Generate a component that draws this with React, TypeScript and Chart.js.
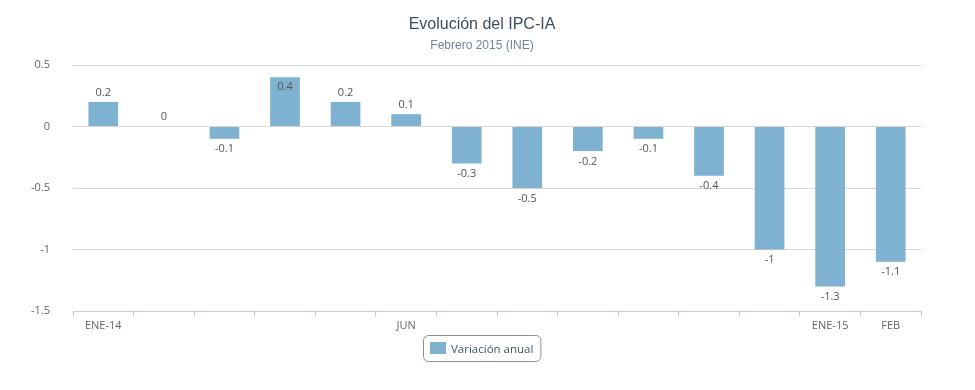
import React, { useEffect, useRef } from "react";
import { Chart, registerables } from "chart.js";

Chart.register(...registerables);

const categories = ["ENE-14", "", "", "", "", "JUN", "", "", "", "", "", "", "ENE-15", "FEB"];
const variacionAnual = [0.2, 0, -0.1, 0.4, 0.2, 0.1, -0.3, -0.5, -0.2, -0.1, -0.4, -1, -1.3, -1.1];
const yTicks = [0.5, 0, -0.5, -1, -1.5];
const titleText = "Evolución del IPC-IA";
const subtitleText = "Febrero 2015 (INE)";
const seriesName = "Variación anual";

const BAR_COLOR = "#7fb1d0";
const FONT = "'Open Sans', 'DejaVu Sans', sans-serif";

const fmt = (v: number) => {
  const r = Math.round(v * 10) / 10;
  return r < 0 ? "-" + String(Math.abs(r)) : String(r);
};

const decorPlugin = {
  id: "decor",
  afterDatasetsDraw(chart: any) {
    const ctx = chart.ctx;
    const meta = chart.getDatasetMeta(0);
    const top = chart.chartArea.top;
    ctx.save();
    ctx.font = "11px " + FONT;
    ctx.fillStyle = "#555";
    ctx.textAlign = "center";
    meta.data.forEach((el: any, i: number) => {
      const v = variacionAnual[i];
      const txt = fmt(v);
      if (v >= 0) {
        if (el.y - 20 < top) {
          ctx.textBaseline = "top";
          ctx.fillText(txt, el.x, el.y + 4);
        } else {
          ctx.textBaseline = "bottom";
          ctx.fillText(txt, el.x, el.y - 4);
        }
      } else {
        ctx.textBaseline = "top";
        ctx.fillText(txt, el.x, el.y + 5);
      }
    });
    ctx.restore();
  },
  afterDraw(chart: any) {
    const ctx = chart.ctx;
    const cx = 482;
    ctx.save();
    ctx.textAlign = "center";
    ctx.textBaseline = "middle";
    ctx.fillStyle = "#3a4f63";
    ctx.font = "16px 'Liberation Sans', Arial, sans-serif";
    ctx.fillText(titleText, cx, 25);
    ctx.fillStyle = "#6d869f";
    ctx.font = "12px 'Liberation Sans', Arial, sans-serif";
    ctx.fillText(subtitleText, cx, 46);

    // legend
    ctx.font = "11.5px " + FONT;
    const tw = ctx.measureText(seriesName).width;
    const boxW = 7 + 16 + 5 + tw + 7;
    const bx = Math.round(cx - boxW / 2) + 0.5;
    const by = 335.5;
    const bh = 26;
    const r = 5;
    ctx.beginPath();
    ctx.moveTo(bx + r, by);
    ctx.lineTo(bx + boxW - r, by);
    ctx.arcTo(bx + boxW, by, bx + boxW, by + r, r);
    ctx.lineTo(bx + boxW, by + bh - r);
    ctx.arcTo(bx + boxW, by + bh, bx + boxW - r, by + bh, r);
    ctx.lineTo(bx + r, by + bh);
    ctx.arcTo(bx, by + bh, bx, by + bh - r, r);
    ctx.lineTo(bx, by + r);
    ctx.arcTo(bx, by, bx + r, by, r);
    ctx.closePath();
    ctx.strokeStyle = "#909090";
    ctx.lineWidth = 1;
    ctx.stroke();
    ctx.fillStyle = BAR_COLOR;
    ctx.fillRect(bx + 6.5, by + 6.5, 16, 12);
    ctx.fillStyle = "#3e576f";
    ctx.textAlign = "left";
    ctx.fillText(seriesName, bx + 6.5 + 16 + 5, by + bh / 2 + 1);
    ctx.restore();
  },
};

export default function App() {
  const ref = useRef<HTMLCanvasElement | null>(null);
  useEffect(() => {
    document.body.style.margin = "0";
    const canvas = ref.current;
    if (!canvas) return;
    const chart = new Chart(canvas, {
      type: "bar",
      data: {
        labels: categories,
        datasets: [
          {
            label: seriesName,
            data: variacionAnual,
            backgroundColor: BAR_COLOR,
            borderWidth: 0,
            categoryPercentage: 1,
            barPercentage: 0.49,
          },
        ],
      },
      options: {
        responsive: false,
        animation: false,
        devicePixelRatio: 1,
        layout: { padding: { top: 65, right: 54, left: 0, bottom: 0 } },
        plugins: {
          legend: { display: false },
          title: { display: false },
          tooltip: { enabled: false },
        },
        scales: {
          x: {
            offset: true,
            afterFit: (s: any) => {
              s.height = 79;
            },
            grid: {
              offset: true,
              drawOnChartArea: false,
              drawTicks: true,
              tickLength: 6,
              color: "#c0d0e0",
            },
            border: { display: true, color: "#c0d0e0", width: 1 },
            ticks: {
              autoSkip: false,
              maxRotation: 0,
              padding: 2,
              color: "#666",
              font: { family: FONT, size: 11 },
            },
          },
          y: {
            min: -1.5,
            max: 0.5,
            afterFit: (s: any) => {
              s.width = 73;
            },
            afterBuildTicks: (s: any) => {
              s.ticks = yTicks.map((v) => ({ value: v }));
            },
            grid: {
              color: "#d8d8d8",
              drawTicks: false,
            },
            border: { display: false },
            ticks: {
              padding: 23,
              color: "#666",
              font: { family: FONT, size: 11 },
              callback: (v: any) => fmt(Number(v)),
            },
          },
        },
      },
      plugins: [decorPlugin],
    });
    return () => chart.destroy();
  }, []);
  return (
    <div style={{ width: 975, height: 390 }}>
      <canvas ref={ref} width={975} height={390} style={{ display: "block" }} />
    </div>
  );
}
